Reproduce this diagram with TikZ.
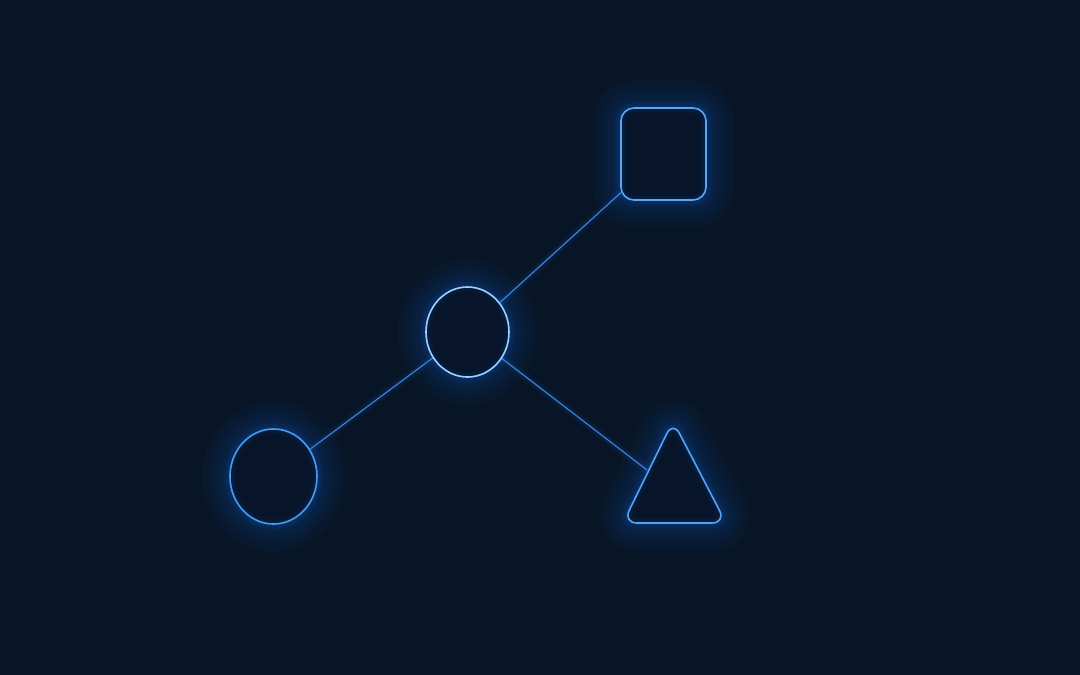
\documentclass[tikz,border=0pt]{standalone}
\usetikzlibrary{shapes.geometric}
\definecolor{bg}{HTML}{081527}
\definecolor{inbg}{HTML}{07142A}
\definecolor{glow}{HTML}{1E6FE0}
\definecolor{edgec}{HTML}{3A86E0}
\definecolor{rimlight}{HTML}{9FD0FF}
\definecolor{rim}{HTML}{4A9BF0}
\tikzset{
  glowline/.style={draw=glow, line width=#1, opacity=0.035, line join=round},
  connglow/.style={draw=glow, line width=#1, opacity=0.05},
  connector/.style={draw=edgec, line width=1.1pt},
  shapeout/.style={draw=rim, line width=1.6pt},
  infill/.style={fill=inbg, draw=none},
}
\begin{document}
\begin{tikzpicture}[x=1pt,y=-1pt]
\fill[bg] (0,0) rectangle (1080,675);
\useasboundingbox (0,0) rectangle (1080,675);
% coordinates
\coordinate (cC) at (467.5,332);
\coordinate (cL) at (273.5,476.5);
\coordinate (cS) at (663.5,154);
\coordinate (tA) at (673,421);
\coordinate (tB) at (726,523);
\coordinate (tC) at (623,523);
% anchor nodes for connectors
\node[ellipse, minimum width=83pt, minimum height=90pt, inner sep=0pt] (center) at (cC) {};
\node[ellipse, minimum width=87pt, minimum height=95pt, inner sep=0pt] (left) at (cL) {};
\node[rectangle, minimum width=85pt, minimum height=92pt, inner sep=0pt] (square) at (cS) {};
\coordinate (triend) at (647,470);
% outer glows
\foreach \w in {3,6,10,14,20,26,34,44,56}{
  \draw[glowline=\w pt] (cC) ellipse [x radius=41.5, y radius=45];
  \draw[glowline=\w pt] (cL) ellipse [x radius=43.5, y radius=47.5];
  \draw[glowline=\w pt, rounded corners=13pt] (621,108) rectangle (706,200);
  \draw[glowline=\w pt, rounded corners=14pt] (tA) -- (tB) -- (tC) -- cycle;
}
\foreach \w in {3,6,9}{
  \draw[connglow=\w pt] (center) -- (square);
  \draw[connglow=\w pt] (center) -- (left);
  \draw[connglow=\w pt] (center) -- (triend);
}
% interiors
\path[infill] (cC) ellipse [x radius=41.5, y radius=45];
\path[infill] (cL) ellipse [x radius=43.5, y radius=47.5];
\path[infill, rounded corners=13pt] (621,108) rectangle (706,200);
\path[infill, rounded corners=14pt] (tA) -- (tB) -- (tC) -- cycle;
% inner glows
\foreach \w in {4,8,12}{
  \draw[glowline=\w pt] (cC) ellipse [x radius=41.5, y radius=45];
  \draw[glowline=\w pt] (cL) ellipse [x radius=43.5, y radius=47.5];
  \draw[glowline=\w pt, rounded corners=13pt] (621,108) rectangle (706,200);
  \draw[glowline=\w pt, rounded corners=14pt] (tA) -- (tB) -- (tC) -- cycle;
}
% connectors
\draw[connector] (center) -- (square);
\draw[connector] (center) -- (left);
\draw[connector] (center) -- (triend);
% shapes
\draw[shapeout, draw=rimlight] (cC) ellipse [x radius=41.5, y radius=45];
\draw[shapeout] (cL) ellipse [x radius=43.5, y radius=47.5];
\draw[shapeout, draw=rim!80!rimlight, rounded corners=13pt] (621,108) rectangle (706,200);
\draw[shapeout, draw=rim!85!rimlight, rounded corners=14pt] (tA) -- (tB) -- (tC) -- cycle;
\end{tikzpicture}
\end{document}
